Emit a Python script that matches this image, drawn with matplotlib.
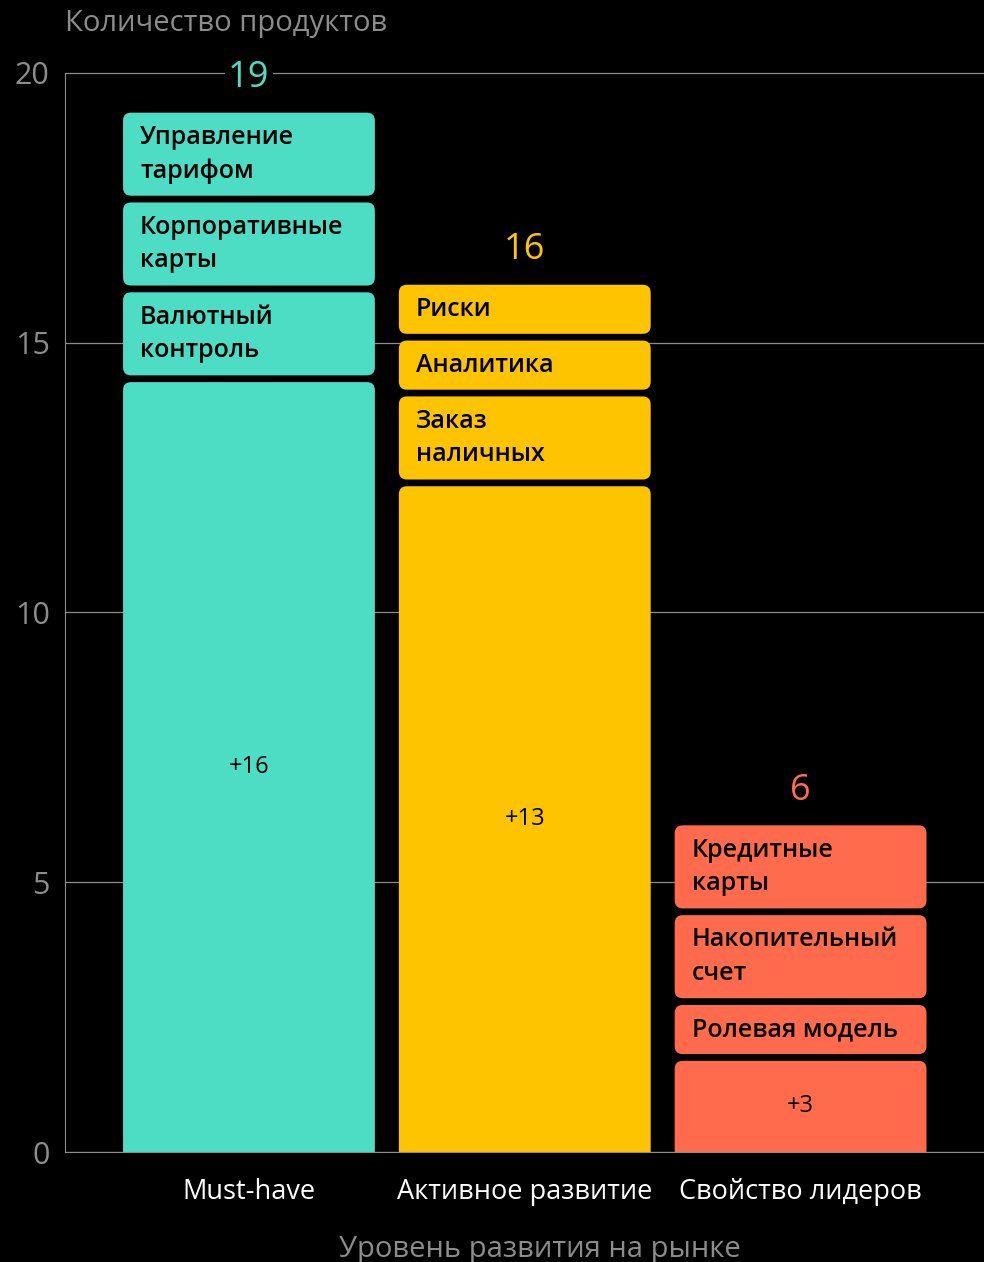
import matplotlib
matplotlib.use("Agg")
import matplotlib.pyplot as plt
from matplotlib.patches import FancyBboxPatch

# данные
categories = ["Must-have", "Активное развитие", "Свойство лидеров"]
totals = [19, 16, 6]
base_labels = ["+16", "+13", "+3"]
base_heights = [14.27, 12.34, 1.69]
# подписанные продукты снизу вверх
items = [
    ["Валютный\nконтроль", "Корпоративные\nкарты", "Управление\nтарифом"],
    ["Заказ\nналичных", "Аналитика", "Риски"],
    ["Ролевая модель", "Накопительный\nсчет", "Кредитные\nкарты"],
]
item_heights = [
    [1.54, 1.54, 1.54],
    [1.54, 0.91, 0.91],
    [0.91, 1.54, 1.54],
]
colors = ["#4DDCC4", "#FFC400", "#FF6B4C"]
yticks = [0, 5, 10, 15, 20]

plt.rcParams["font.family"] = ["Open Sans", "DejaVu Sans"]
GRAY = "#8c8c8c"

fig = plt.figure(figsize=(9.84, 12.62), dpi=100, facecolor="black")
ax = fig.add_axes([65 / 984, 110 / 1262, 1 - 65 / 984, (1152 - 56.8) / 1262])
ax.set_facecolor("black")

ax.set_xlim(-0.667, 2.665)
ax.set_ylim(0, 20.3)

width = 252 / 276
gap = 0.125
aspect = 276 / 53.95
rnd = 8 / 276

for i, cat in enumerate(categories):
    x0 = i - width / 2
    # основной блок, низ уходит под ось
    ax.add_patch(FancyBboxPatch((x0, -1), width, base_heights[i] + 1,
                                boxstyle=f"round,pad=0,rounding_size={rnd}",
                                mutation_aspect=aspect, fc=colors[i], ec="none", zorder=2))
    ax.text(i, base_heights[i] / 2, base_labels[i], ha="center", va="center",
            fontsize=17, color="black", fontweight="medium", zorder=3)

    y = base_heights[i]
    for name, h in zip(items[i], item_heights[i]):
        y += gap
        ax.add_patch(FancyBboxPatch((x0, y), width, h,
                                    boxstyle=f"round,pad=0,rounding_size={rnd}",
                                    mutation_aspect=aspect, fc=colors[i], ec="none", zorder=2))
        ax.text(x0 + 17 / 276, y + h / 2, name, ha="left", va="center",
                fontsize=18, color="black", linespacing=1.45, fontweight="semibold", zorder=3)
        y += h

    # итог над столбцом
    ax.text(i, y + 0.64, str(totals[i]), ha="center", va="center", fontsize=26,
            color=colors[i], zorder=4,
            bbox=dict(boxstyle="square,pad=0.1", fc="black", ec="none"))

# оси и сетка
ax.set_yticks(yticks)
ax.set_xticks(range(len(categories)))
ax.set_xticklabels(categories, fontsize=19.5, color="white")
ax.tick_params(axis="x", length=0, pad=19)
ax.tick_params(axis="y", length=0, pad=11, labelsize=22, labelcolor=GRAY)
ax.yaxis.grid(True, color=GRAY, linewidth=0.9, zorder=0)
ax.set_axisbelow(True)
for s in ["top", "right"]:
    ax.spines[s].set_visible(False)
ax.spines["left"].set_color(GRAY)
ax.spines["left"].set_bounds(0, 20)
ax.spines["bottom"].set_color(GRAY)

fig.text(65 / 984, 1 - 24 / 1262, "Количество продуктов", ha="left", va="center",
         fontsize=21, color=GRAY)
fig.text(540 / 984, 1 - 1249 / 1262, "Уровень развития на рынке", ha="center",
         va="center", fontsize=21, color=GRAY)

fig.savefig("out.png", dpi=100, facecolor="black")
